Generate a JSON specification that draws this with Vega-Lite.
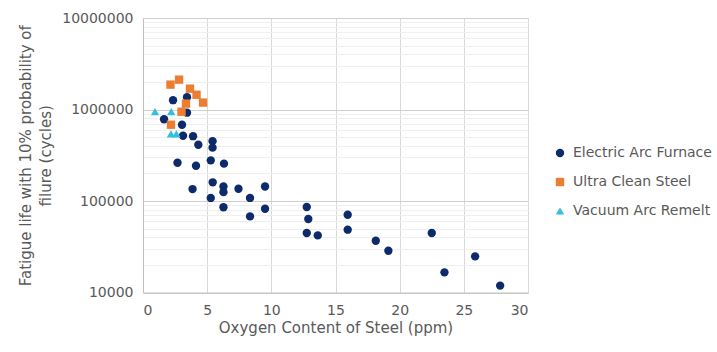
{
  "$schema": "https://vega.github.io/schema/vega-lite/v6.json",
  "width": 385,
  "height": 274.5,
  "autosize": {"type": "none"},
  "padding": {"left": 143, "top": 18, "right": 189, "bottom": 59.5},
  "background": "white",
  "config": {
    "view": {"stroke": null},
    "font": "DejaVu Sans",
    "axis": {"labelFont": "DejaVu Sans", "titleFont": "DejaVu Sans", "labelColor": "#595959", "titleColor": "#595959", "labelFontSize": 14, "titleFontSize": 15, "titleFontWeight": "normal", "ticks": false, "gridColor": "#d9d9d9", "gridWidth": 1}
  },
  "datasets": {
    "pts": [
      {"o": 1.64, "f": 783000, "s": "Electric Arc Furnace"},
      {"o": 2.34, "f": 1264000, "s": "Electric Arc Furnace"},
      {"o": 3.43, "f": 1360000, "s": "Electric Arc Furnace"},
      {"o": 3.43, "f": 923000, "s": "Electric Arc Furnace"},
      {"o": 3.04, "f": 682000, "s": "Electric Arc Furnace"},
      {"o": 3.12, "f": 517000, "s": "Electric Arc Furnace"},
      {"o": 3.9, "f": 511000, "s": "Electric Arc Furnace"},
      {"o": 4.31, "f": 412000, "s": "Electric Arc Furnace"},
      {"o": 5.42, "f": 451000, "s": "Electric Arc Furnace"},
      {"o": 5.42, "f": 383000, "s": "Electric Arc Furnace"},
      {"o": 2.69, "f": 262000, "s": "Electric Arc Furnace"},
      {"o": 4.13, "f": 243000, "s": "Electric Arc Furnace"},
      {"o": 5.28, "f": 278000, "s": "Electric Arc Furnace"},
      {"o": 6.31, "f": 256000, "s": "Electric Arc Furnace"},
      {"o": 3.86, "f": 135000, "s": "Electric Arc Furnace"},
      {"o": 5.43, "f": 160000, "s": "Electric Arc Furnace"},
      {"o": 6.27, "f": 144000, "s": "Electric Arc Furnace"},
      {"o": 6.27, "f": 125000, "s": "Electric Arc Furnace"},
      {"o": 7.44, "f": 136000, "s": "Electric Arc Furnace"},
      {"o": 5.28, "f": 108000, "s": "Electric Arc Furnace"},
      {"o": 8.34, "f": 108000, "s": "Electric Arc Furnace"},
      {"o": 9.51, "f": 144000, "s": "Electric Arc Furnace"},
      {"o": 6.27, "f": 85500, "s": "Electric Arc Furnace"},
      {"o": 8.34, "f": 67900, "s": "Electric Arc Furnace"},
      {"o": 9.51, "f": 82400, "s": "Electric Arc Furnace"},
      {"o": 12.76, "f": 85900, "s": "Electric Arc Furnace"},
      {"o": 12.88, "f": 63600, "s": "Electric Arc Furnace"},
      {"o": 12.76, "f": 44700, "s": "Electric Arc Furnace"},
      {"o": 13.62, "f": 42100, "s": "Electric Arc Furnace"},
      {"o": 15.95, "f": 70800, "s": "Electric Arc Furnace"},
      {"o": 15.95, "f": 48600, "s": "Electric Arc Furnace"},
      {"o": 18.14, "f": 36800, "s": "Electric Arc Furnace"},
      {"o": 19.12, "f": 28600, "s": "Electric Arc Furnace"},
      {"o": 22.5, "f": 44700, "s": "Electric Arc Furnace"},
      {"o": 23.49, "f": 16600, "s": "Electric Arc Furnace"},
      {"o": 25.88, "f": 24800, "s": "Electric Arc Furnace"},
      {"o": 27.83, "f": 11900, "s": "Electric Arc Furnace"},
      {"o": 2.14, "f": 1870000, "s": "Ultra Clean Steel"},
      {"o": 2.81, "f": 2120000, "s": "Ultra Clean Steel"},
      {"o": 3.66, "f": 1690000, "s": "Ultra Clean Steel"},
      {"o": 4.17, "f": 1450000, "s": "Ultra Clean Steel"},
      {"o": 4.68, "f": 1190000, "s": "Ultra Clean Steel"},
      {"o": 3.35, "f": 1160000, "s": "Ultra Clean Steel"},
      {"o": 3.0, "f": 946000, "s": "Ultra Clean Steel"},
      {"o": 2.18, "f": 682000, "s": "Ultra Clean Steel"},
      {"o": 0.94, "f": 946000, "s": "Vacuum Arc Remelt"},
      {"o": 2.2, "f": 946000, "s": "Vacuum Arc Remelt"},
      {"o": 2.18, "f": 540000, "s": "Vacuum Arc Remelt"},
      {"o": 2.6, "f": 540000, "s": "Vacuum Arc Remelt"}
    ]
  },
  "data": {"name": "pts"},
  "mark": {"type": "point", "filled": true, "opacity": 1, "size": 70},
  "encoding": {
    "x": {
      "field": "o", "type": "quantitative",
      "scale": {"domain": [0, 30], "nice": false, "zero": false},
      "axis": {"values": [0, 5, 10, 15, 20, 25, 30], "title": "Oxygen Content  of Steel (ppm)", "labelPadding": 11, "titlePadding": 3, "domain": true, "domainColor": "#bfbfbf"}
    },
    "y": {
      "field": "f", "type": "quantitative",
      "scale": {"type": "log", "domain": [10000, 10000000], "nice": false},
      "axis": {
        "values": [10000, 20000, 30000, 40000, 50000, 60000, 70000, 80000, 90000, 100000, 200000, 300000, 400000, 500000, 600000, 700000, 800000, 900000, 1000000, 2000000, 3000000, 4000000, 5000000, 6000000, 7000000, 8000000, 9000000, 10000000],
        "labelExpr": "(datum.value == 10000 || datum.value == 100000 || datum.value == 1000000 || datum.value == 10000000) ? format(datum.value, 'd') : ''",
        "gridColor": {"condition": {"test": "datum.value == 10000 || datum.value == 100000 || datum.value == 1000000 || datum.value == 10000000", "value": "#d0d0d0"}, "value": "#efefef"},
        "title": ["Fatigue life with 10% probability of", "filure  (cycles)"],
        "titleLineHeight": 20,
        "titlePadding": 8,
        "labelPadding": 10,
        "domain": true,
        "domainColor": "#bfbfbf"
      }
    },
    "color": {
      "field": "s", "type": "nominal",
      "scale": {"domain": ["Electric Arc Furnace", "Ultra Clean Steel", "Vacuum Arc Remelt"], "range": ["#0d2a6a", "#ed7d31", "#33bfdc"]},
      "legend": {"title": null, "orient": "none", "legendX": 410, "legendY": 128, "labelFont": "DejaVu Sans", "labelFontSize": 14, "labelColor": "#595959", "symbolSize": 70, "rowPadding": 15, "labelOffset": 6}
    },
    "shape": {
      "field": "s", "type": "nominal",
      "scale": {"domain": ["Electric Arc Furnace", "Ultra Clean Steel", "Vacuum Arc Remelt"], "range": ["circle", "square", "triangle-up"]}
    }
  }
}
